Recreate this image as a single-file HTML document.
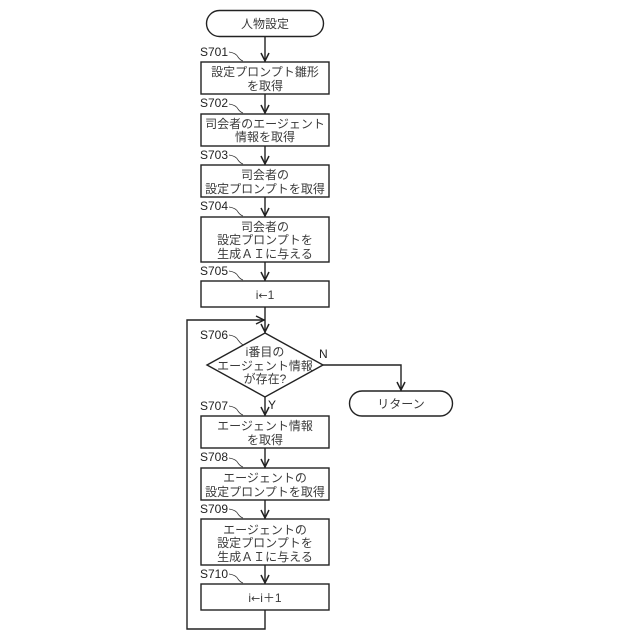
<!DOCTYPE html>
<html><head><meta charset="utf-8"><style>
html,body{margin:0;padding:0;background:#fff}
svg{display:block}
text{font-family:"Liberation Sans","Noto Sans CJK JP",sans-serif;font-size:12px;fill:#3a3a3a;text-anchor:middle}
.s{font-size:12px;text-anchor:start;fill:#222}
.r{font-family:"DejaVu Sans",sans-serif;font-size:11px}
.b{fill:#fff;stroke:#222;stroke-width:1.4}
.l{fill:none;stroke:#222;stroke-width:1.4}
.c{fill:none;stroke:#333;stroke-width:.8}
.a{fill:none;stroke:#222;stroke-width:1.5}
</style></head><body>
<svg width="640" height="640" viewBox="0 0 640 640" xmlns="http://www.w3.org/2000/svg">
<path class="l" d="M265 36V62M265 94V114M265 146V165M265 197V217M265 262V281M265 307V333M265 397V416M265 448V468M265 500V519M265 565V584M265 610V629H187V320H265M323 365H401V391"/>
<path class="a" d="M261 53L265 61L269 53M261 105L265 113L269 105M261 156L265 164L269 156M261 208L265 216L269 208M261 272L265 280L269 272M261 324L265 332L269 324M261 407L265 415L269 407M261 459L265 467L269 459M261 510L265 518L269 510M261 575L265 583L269 575M397 382L401 390L405 382M256 316L264 320L256 324"/>
<rect class="b" x="206.500" y="10.500" width="117" height="26" rx="13"/>
<rect class="b" x="201" y="62" width="128" height="32"/>
<rect class="b" x="201" y="114" width="128" height="32"/>
<rect class="b" x="201" y="165" width="128" height="32"/>
<rect class="b" x="201" y="217" width="128" height="45"/>
<rect class="b" x="201" y="281" width="128" height="26"/>
<polygon class="b" points="265,333 323,365 265,397 207,365"/>
<rect class="b" x="349.500" y="391" width="103" height="25" rx="12.500"/>
<rect class="b" x="201" y="416" width="128" height="32"/>
<rect class="b" x="201" y="468" width="128" height="32"/>
<rect class="b" x="201" y="519" width="128" height="46"/>
<rect class="b" x="201" y="584" width="128" height="26"/>
<path class="c" d="M229 52Q236 53 238 57Q240 60 243 61M229 104Q236 105 238 109Q240 112 243 113M229 155Q236 156 238 160Q240 163 243 164M229 207Q236 208 238 212Q240 215 243 216M229 271Q236 272 238 276Q240 279 243 280M229 335Q236 336 238 340Q240 343 243 345M229 406Q236 407 238 411Q240 414 243 415M229 458Q236 459 238 463Q240 466 243 467M229 509Q236 510 238 514Q240 517 243 518M229 574Q236 575 238 579Q240 582 243 583"/>
<text class="s" x="200" y="56">S701</text>
<text class="s" x="200" y="107">S702</text>
<text class="s" x="200" y="159">S703</text>
<text class="s" x="200" y="210">S704</text>
<text class="s" x="200" y="275">S705</text>
<text class="s" x="200" y="339">S706</text>
<text class="s" x="200" y="410">S707</text>
<text class="s" x="200" y="461">S708</text>
<text class="s" x="200" y="513">S709</text>
<text class="s" x="200" y="578">S710</text>
<text x="265" y="28">人物設定</text>
<text x="265" y="76">設定プロンプト雛形</text>
<text x="265" y="90">を取得</text>
<text x="265" y="128">司会者のエージェント</text>
<text x="265" y="141">情報を取得</text>
<text x="265" y="179">司会者の</text>
<text x="265" y="193">設定プロンプトを取得</text>
<text x="265" y="231">司会者の</text>
<text x="265" y="244">設定プロンプトを</text>
<text x="265" y="258">生成ＡＩに与える</text>
<text x="265" y="299">i<tspan class="r">←</tspan>1</text>
<text x="265" y="356">i番目の</text>
<text x="265" y="370">エージェント情報</text>
<text x="265" y="383">が存在?</text>
<text class="s" x="319" y="358">N</text>
<text class="s" x="268" y="409">Y</text>
<text x="401" y="408">リターン</text>
<text x="265" y="430">エージェント情報</text>
<text x="265" y="444">を取得</text>
<text x="265" y="482">エージェントの</text>
<text x="265" y="496">設定プロンプトを取得</text>
<text x="265" y="534">エージェントの</text>
<text x="265" y="547">設定プロンプトを</text>
<text x="265" y="561">生成ＡＩに与える</text>
<text x="265" y="602">i<tspan class="r">←</tspan>i＋1</text>
</svg>
</body></html>
